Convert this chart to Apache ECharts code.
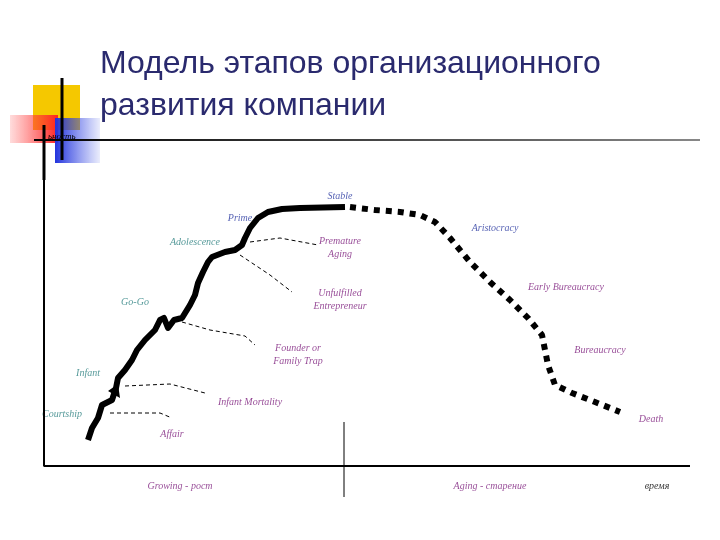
<!DOCTYPE html>
<html><head><meta charset="utf-8">
<script src="https://cdn.jsdelivr.net/npm/echarts@6/dist/echarts.min.js"></script>
<style>html,body{margin:0;background:#fff}#main{width:720px;height:540px}</style>
</head><body><div id="main"></div>
<script>
// points, in picture coordinates (x right, y down)
var growthPath = [[88,440],[92,428],[98,418],[102,405],[112,400],[116,388],[118,378],[125,370],[132,360],[137,350],[145,340],[155,330],[160,320],[164,318],[168,328],[174,320],[182,318],[190,305],[195,295],[198,283],[203,272],[208,262],[212,257],[225,252],[235,250],[242,245],[245,238],[250,228],[258,218],[268,212],[282,209],[300,208],[345,207]];
var agingPath = [[350,207],[375,210],[400,212],[420,215],[435,222],[450,238],[470,262],[490,282],[510,300],[528,318],[542,335],[548,365],[555,385],[572,393],[595,402],[620,412]];
var trapLines = [
  [[110,413],[160,413],[172,418]],
  [[125,386],[170,384],[205,393]],
  [[182,322],[210,330],[245,336],[255,345]],
  [[240,255],[270,275],[292,292]],
  [[250,242],[280,238],[318,245]]
];
var stageLabels = [
  ['Stable',340,196,'#2b3aa0'],['Prime',240,218,'#2b3aa0'],['Aristocracy',495,228,'#2b3aa0'],
  ['Adolescence',195,242,'#2a7f7f'],['Go-Go',135,302,'#2a7f7f'],['Infant',88,373,'#2a7f7f'],['Courtship',62,414,'#2a7f7f'],
  ['Premature\nAging',340,248,'#7a1a7a'],['Unfulfilled\nEntrepreneur',340,300,'#7a1a7a'],['Founder or\nFamily Trap',298,355,'#7a1a7a'],
  ['Infant Mortality',250,402,'#7a1a7a'],['Affair',172,434,'#7a1a7a'],['Early Bureaucracy',566,287,'#7a1a7a'],
  ['Bureaucracy',600,350,'#7a1a7a'],['Death',651,419,'#7a1a7a'],
  ['Growing - рост',180,486,'#7a1a7a'],['Aging - старение',490,486,'#7a1a7a'],['время',657,486,'#000']
];
var titleLines = ['Модель этапов организационного', 'развития компании'];

var series = [
  {type:'line', data:[[44,140],[44,466],[690,466]], symbol:'none', lineStyle:{color:'#000',width:2}},
  {type:'line', data:[[344,422],[344,497]], symbol:'none', lineStyle:{color:'#000',width:1}},
  {type:'line', data:growthPath, symbol:'none', lineStyle:{color:'#000',width:6,join:'round'}},
  {type:'line', data:agingPath, symbol:'none', lineStyle:{color:'#000',width:6,type:[6,6]}}
];
trapLines.forEach(function(l){
  series.push({type:'line', data:l, symbol:'none', lineStyle:{color:'#000',width:1,type:[4,3]}});
});
series.push({type:'scatter', symbolSize:0,
  data:stageLabels.map(function(s){return {value:[s[1],s[2]],label:{show:true,formatter:s[0],color:s[3]}};}),
  label:{position:'inside',fontFamily:'Liberation Serif',fontStyle:'italic',fontSize:10,lineHeight:13}});
series.push({type:'line', data:[[108,391],[118,384],[120,398],[108,391]], symbol:'none', lineStyle:{width:0}, areaStyle:{color:'#000',opacity:1}});

var option = {
  animation:false,
  grid:{left:0,right:0,top:0,bottom:0},
  xAxis:{type:'value',min:0,max:720,show:false},
  yAxis:{type:'value',min:0,max:540,inverse:true,show:false},
  graphic:[
    {type:'rect',shape:{x:33,y:85,width:47,height:45},style:{fill:'#f5c800'}},
    {type:'rect',shape:{x:10,y:115,width:48,height:28},style:{fill:new echarts.graphic.LinearGradient(0,0,1,0,[{offset:0,color:'rgba(255,80,80,0.2)'},{offset:1,color:'#f22'}])}},
    {type:'rect',shape:{x:55,y:118,width:45,height:45},style:{fill:new echarts.graphic.LinearGradient(0,0,1,0,[{offset:0,color:'#2233dd'},{offset:1,color:'rgba(60,80,230,0.1)'}])}},
    {type:'line',shape:{x1:62,y1:78,x2:62,y2:160},style:{stroke:'#000',lineWidth:3}},
    {type:'line',shape:{x1:44,y1:125,x2:44,y2:180},style:{stroke:'#000',lineWidth:3}},
    {type:'line',shape:{x1:34,y1:140,x2:700,y2:140},style:{stroke:new echarts.graphic.LinearGradient(0,0,1,0,[{offset:0,color:'#000'},{offset:1,color:'#888'}]),lineWidth:2}},
    {type:'text',left:48,top:132,style:{text:'ьность',font:'italic 9px Liberation Serif',fill:'#000'}},
    {type:'text',left:100,top:48,style:{text:titleLines[0],font:'32px Liberation Sans',fill:'#2a2a6e'}},
    {type:'text',left:100,top:90,style:{text:titleLines[1],font:'32px Liberation Sans',fill:'#2a2a6e'}}
  ],
  series:series
};
echarts.init(document.getElementById('main')).setOption(option);
</script></body></html>
